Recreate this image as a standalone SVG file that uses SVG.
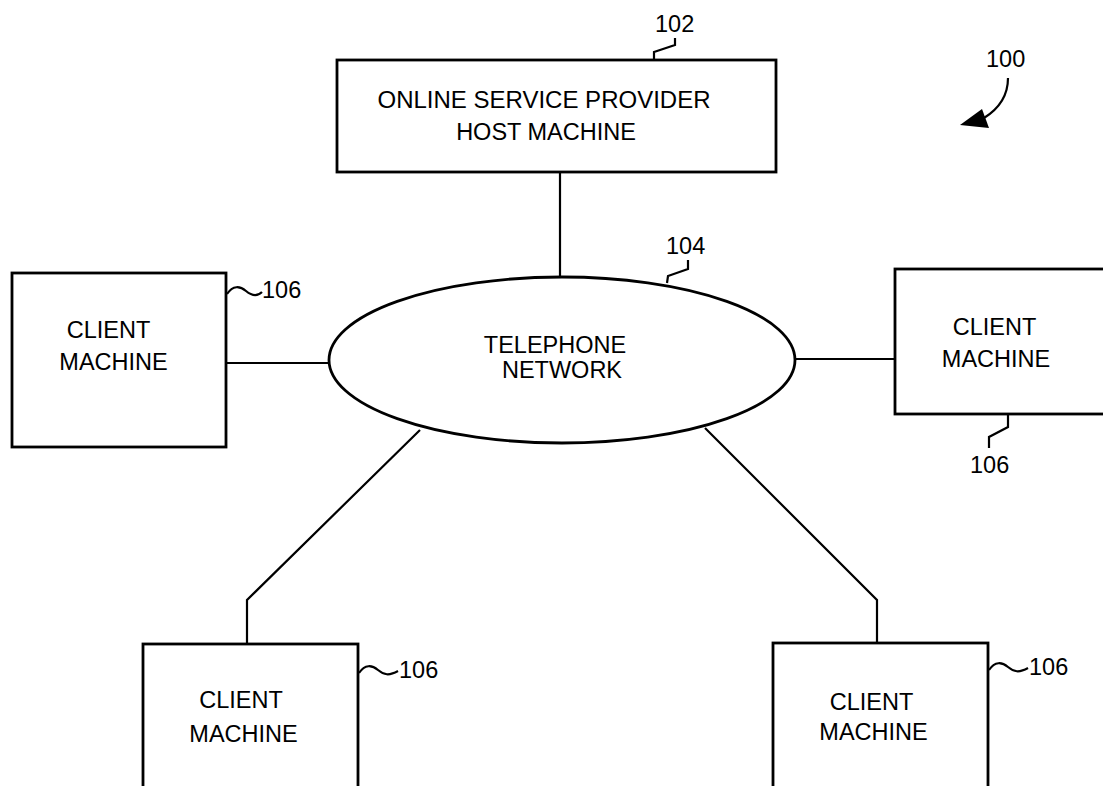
<svg xmlns="http://www.w3.org/2000/svg" width="1103" height="786" viewBox="0 0 1103 786">
<style>
.box{fill:#fff;stroke:#000;stroke-width:2.8}
.ln{fill:none;stroke:#000;stroke-width:2.2}
.t{font-family:"Liberation Sans",Arial,sans-serif;font-size:23.5px;fill:#000;text-anchor:middle}
.lbl{font-family:"Liberation Sans",Arial,sans-serif;font-size:23.5px;fill:#000}
</style>
<rect width="1103" height="786" fill="#fff"/>
<g id="connectors">
<line class="ln" x1="560" y1="172" x2="560" y2="277"/>
<line class="ln" x1="226" y1="363" x2="329" y2="363"/>
<line class="ln" x1="795" y1="359" x2="895" y2="359"/>
<polyline class="ln" points="420,430 247,600 247,644"/>
<polyline class="ln" points="705,428 877,600 877,643"/>
</g>
<g id="host">
<rect class="box" x="337" y="60" width="439" height="112"/>
<text class="t" x="544" y="108" style="font-size:24px">ONLINE SERVICE PROVIDER</text>
<text class="t" x="546" y="140">HOST MACHINE</text>
<path class="ln" d="M675,38 L675,45 L654,52 L654,60"/>
<text class="lbl" x="655" y="32">102</text>
</g>
<g id="network">
<ellipse class="box" cx="562" cy="360" rx="233" ry="83"/>
<text class="t" x="555" y="353">TELEPHONE</text>
<text class="t" x="562" y="378">NETWORK</text>
<path class="ln" d="M667,283 L668,276 L688,269 L688,260"/>
<text class="lbl" x="666" y="254">104</text>
</g>
<g id="client-left">
<rect class="box" x="12" y="273" width="214" height="174"/>
<text class="t" x="108.5" y="338">CLIENT</text>
<text class="t" x="113.5" y="370">MACHINE</text>
<path class="ln" d="M227,294 C233,285 240,286 246,291 C252,296 257,297 262,292"/>
<text class="lbl" x="262" y="298">106</text>
</g>
<g id="client-right">
<rect class="box" x="895" y="269" width="215" height="145"/>
<text class="t" x="994.5" y="335">CLIENT</text>
<text class="t" x="996" y="367">MACHINE</text>
<path class="ln" d="M1008,414 L1008,427 L989,437 L989,448"/>
<text class="lbl" x="970" y="473">106</text>
</g>
<g id="client-bottom-left">
<rect class="box" x="143" y="644" width="215" height="160"/>
<text class="t" x="241" y="708">CLIENT</text>
<text class="t" x="243.5" y="742">MACHINE</text>
<path class="ln" d="M359,673 C365,664 372,665 378,670 C384,675 389,676 398,671"/>
<text class="lbl" x="399" y="678">106</text>
</g>
<g id="client-bottom-right">
<rect class="box" x="773" y="643" width="215" height="160"/>
<text class="t" x="871.5" y="710">CLIENT</text>
<text class="t" x="873.5" y="740">MACHINE</text>
<path class="ln" d="M989,670 C995,661 1002,662 1008,667 C1014,672 1019,673 1028,668"/>
<text class="lbl" x="1029" y="675">106</text>
</g>
<g id="ref-100">
<path class="ln" d="M1008,78 C1008,95 1000,108 984,118" stroke-width="2.5"/>
<polygon points="960,125 982,109 989,128" fill="#000"/>
<text class="lbl" x="986" y="67">100</text>
</g>
</svg>
